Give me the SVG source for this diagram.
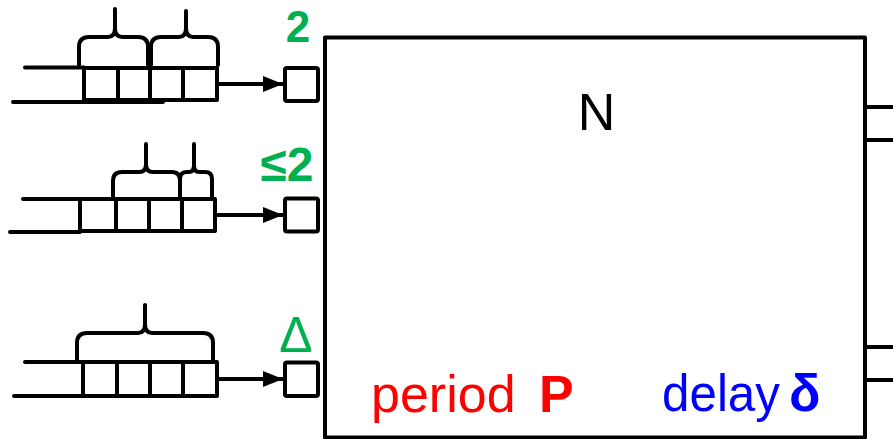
<svg xmlns="http://www.w3.org/2000/svg" width="893" height="439" viewBox="0 0 893 439">
<style>
.ln{fill:none;stroke:#000;stroke-width:4;stroke-linecap:round;stroke-linejoin:round}
.br{fill:none;stroke:#000;stroke-width:4;stroke-linecap:round;stroke-linejoin:round}
.g{fill:#00B050;font-family:"Liberation Sans",Arial,sans-serif}
.t{font-family:"Liberation Sans",Arial,sans-serif;font-size:52px}
</style>
<defs>
<marker id="ah" markerUnits="userSpaceOnUse" markerWidth="21" markerHeight="17" refX="20" refY="8.5" orient="auto">
<path d="M0,0.5 L20,8.5 L0,16.5 Z" fill="#000"/>
</marker>
</defs>
<rect width="893" height="439" fill="#fff"/>

<g id="node-N">
<rect class="ln" x="325" y="37.5" width="540" height="400" fill="#fff"/>
<text class="t" x="596.5" y="130" text-anchor="middle" fill="#000">N</text>
<text class="t" x="371" y="412" fill="#FF0000">period <tspan x="539" font-weight="bold">P</tspan></text>
<text class="t" x="662" y="411" fill="#0000FF"><tspan textLength="118" lengthAdjust="spacingAndGlyphs">delay</tspan><tspan x="789" font-weight="bold">δ</tspan></text>
</g>

<g id="queue-1">
<path class="ln" d="M25,67.5 H84 M13,102 H163"/>
<rect class="ln" x="84" y="68" width="133" height="32" fill="none"/>
<path class="ln" d="M118,68 V100 M150,68 V100 M183,68 V100"/>
<path class="br" d="M79,65 V47 Q79,37 89,37 H108 Q115,37 115,28 V9 V28 Q115,37 122,37 H138 Q148,37 148,47 V65"/>
<path class="br" d="M151,65 V47 Q151,37 161,37 H179 Q186,37 186,28 V11 V28 Q186,37 193,37 H208 Q218,37 218,47 V65"/>
</g>

<g id="queue-2">
<path class="ln" d="M23,199 H80 M10,232 H80"/>
<rect class="ln" x="80" y="199" width="135" height="32" fill="none"/>
<path class="ln" d="M116,199 V231 M149,199 V231 M182,199 V231"/>
<path class="br" d="M113,197 V181 Q113,172 122,172 H139 Q146,172 146,164 V144 V164 Q146,172 153,172 H172 Q180,172 180,181 V197"/>
<path class="br" d="M180,197 V179 Q180,172 187,172 H189 Q194,172 194,165 V144 V165 Q194,172 199,172 H205 Q212,172 212,179 V197"/>
</g>

<g id="queue-3">
<path class="ln" d="M25,362 H83 M14,396 H83"/>
<rect class="ln" x="83" y="362" width="134" height="34" fill="none"/>
<path class="ln" d="M117,362 V396 M150,362 V396 M183,362 V396"/>
<path class="br" d="M77,360 V343 Q77,333 87,333 H138 Q145,333 145,324 V305 V324 Q145,333 152,333 H203 Q213,333 213,343 V360"/>
</g>

<g id="port-1">
<rect class="ln" x="285" y="68" width="33" height="33" rx="2" fill="#fff"/>
<text class="g" x="298" y="42" font-size="44" font-weight="bold" text-anchor="middle">2</text>
</g>
<g id="port-2">
<rect class="ln" x="285" y="198.5" width="33" height="33" rx="2" fill="#fff"/>
<text class="g" x="287" y="181" font-size="48" font-weight="bold" text-anchor="middle">≤2</text>
</g>
<g id="port-3">
<rect class="ln" x="285" y="362.5" width="33" height="33.5" rx="2" fill="#fff"/>
<text class="g" x="296" y="352" font-size="50" text-anchor="middle">Δ</text>
</g>

<g id="connectors">
<path class="ln" d="M217,84 H283" marker-end="url(#ah)"/>
<path class="ln" d="M215,215 H283" marker-end="url(#ah)"/>
<path class="ln" d="M217,379 H283" marker-end="url(#ah)"/>
<path class="ln" d="M865,107 H895 M865,140 H895 M865,347 H895 M865,380 H895"/>
</g>
</svg>
